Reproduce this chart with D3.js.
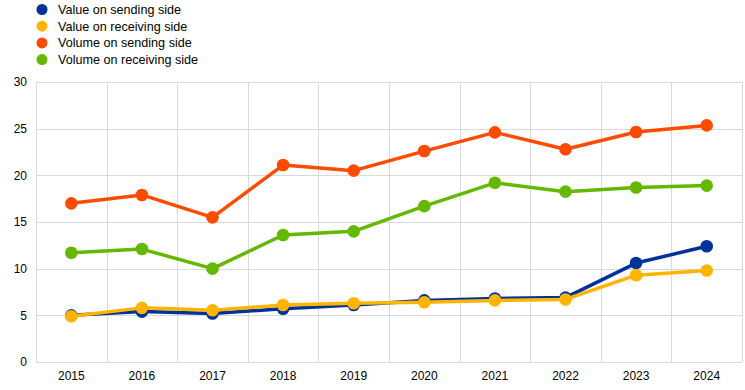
<!DOCTYPE html>
<html>
<head>
<meta charset="utf-8">
<script src="https://cdn.jsdelivr.net/npm/d3@7"></script>
<style>
  html, body { margin: 0; padding: 0; background: #fff; }
  svg { display: block; font-family: "Liberation Sans", Arial, sans-serif; }
</style>
</head>
<body>
<svg id="chart" width="745" height="390"></svg>
<script>
const years = ["2015","2016","2017","2018","2019","2020","2021","2022","2023","2024"];
const valueSending   = [5.0, 5.4, 5.2, 5.7, 6.1, 6.6, 6.8, 6.9, 10.6, 12.4];
const valueReceiving = [4.9, 5.8, 5.55, 6.1, 6.3, 6.4, 6.6, 6.7, 9.3, 9.8];
const volumeSending  = [17.0, 17.9, 15.5, 21.1, 20.5, 22.6, 24.6, 22.8, 24.65, 25.35];
const volumeReceiving= [11.7, 12.1, 10.0, 13.6, 14.0, 16.7, 19.2, 18.25, 18.7, 18.9];
const seriesNames = ["Value on sending side","Value on receiving side","Volume on sending side","Volume on receiving side"];
const seriesColors = ["#003299","#FFB400","#FF4B00","#65B800"];
const yTicks = [0,5,10,15,20,25,30];

const series = [valueSending, valueReceiving, volumeSending, volumeReceiving].map((v,i)=>({
  name: seriesNames[i], color: seriesColors[i], values: v
}));

const svg = d3.select("#chart");
const mLeft = 36, mRight = 742, mTop = 82, mBottom = 362;

const x = d3.scaleBand().domain(years).range([mLeft, mRight]);
const y = d3.scaleLinear().domain([0,30]).range([mBottom, mTop]);

// gridlines
const grid = svg.append("g");
grid.selectAll("line.h").data(yTicks).join("line")
  .attr("x1", mLeft).attr("x2", mRight)
  .attr("y1", d=>Math.round(y(d))+0.5).attr("y2", d=>Math.round(y(d))+0.5)
  .attr("stroke", "#d9d9d9").attr("stroke-width", 1);
const bounds = years.map(d=>x(d)).concat([mRight]);
grid.selectAll("line.v").data(bounds).join("line")
  .attr("x1", d=>Math.round(d)+0.5).attr("x2", d=>Math.round(d)+0.5)
  .attr("y1", mTop).attr("y2", mBottom)
  .attr("stroke", "#d9d9d9").attr("stroke-width", 1);

// axes
const yAxis = d3.axisLeft(y).tickValues(yTicks).tickSize(0).tickPadding(9);
svg.append("g").attr("transform", `translate(${mLeft},0)`).call(yAxis)
  .call(g=>g.select(".domain").remove())
  .call(g=>g.selectAll("text").attr("font-size", 12).attr("fill", "#000").attr("font-family", "Liberation Sans, Arial, sans-serif"));

const xAxis = d3.axisBottom(x).tickSize(0).tickPadding(9);
svg.append("g").attr("transform", `translate(0,${mBottom})`).call(xAxis)
  .call(g=>g.select(".domain").remove())
  .call(g=>g.selectAll("text").attr("font-size", 12).attr("fill", "#000").attr("font-family", "Liberation Sans, Arial, sans-serif"));

// lines
const line = d3.line().x((d,i)=>x(years[i]) + x.bandwidth()/2).y(d=>y(d));
series.forEach(s=>{
  const g = svg.append("g");
  g.append("path").datum(s.values).attr("d", line)
    .attr("fill","none").attr("stroke", s.color).attr("stroke-width", 3.5)
    .attr("stroke-linejoin","round");
  g.selectAll("circle").data(s.values).join("circle")
    .attr("cx", (d,i)=>x(years[i]) + x.bandwidth()/2)
    .attr("cy", d=>y(d)).attr("r", 6.3).attr("fill", s.color);
});

// legend
const legend = svg.append("g");
series.forEach((s,i)=>{
  const cy = 9.5 + i*16.7;
  legend.append("circle").attr("cx", 42).attr("cy", cy).attr("r", 5.5).attr("fill", s.color);
  legend.append("text").attr("x", 58).attr("y", cy).attr("dy", "0.35em")
    .attr("font-size", 12.6).attr("fill", "#000").text(s.name);
});
</script>
</body>
</html>
